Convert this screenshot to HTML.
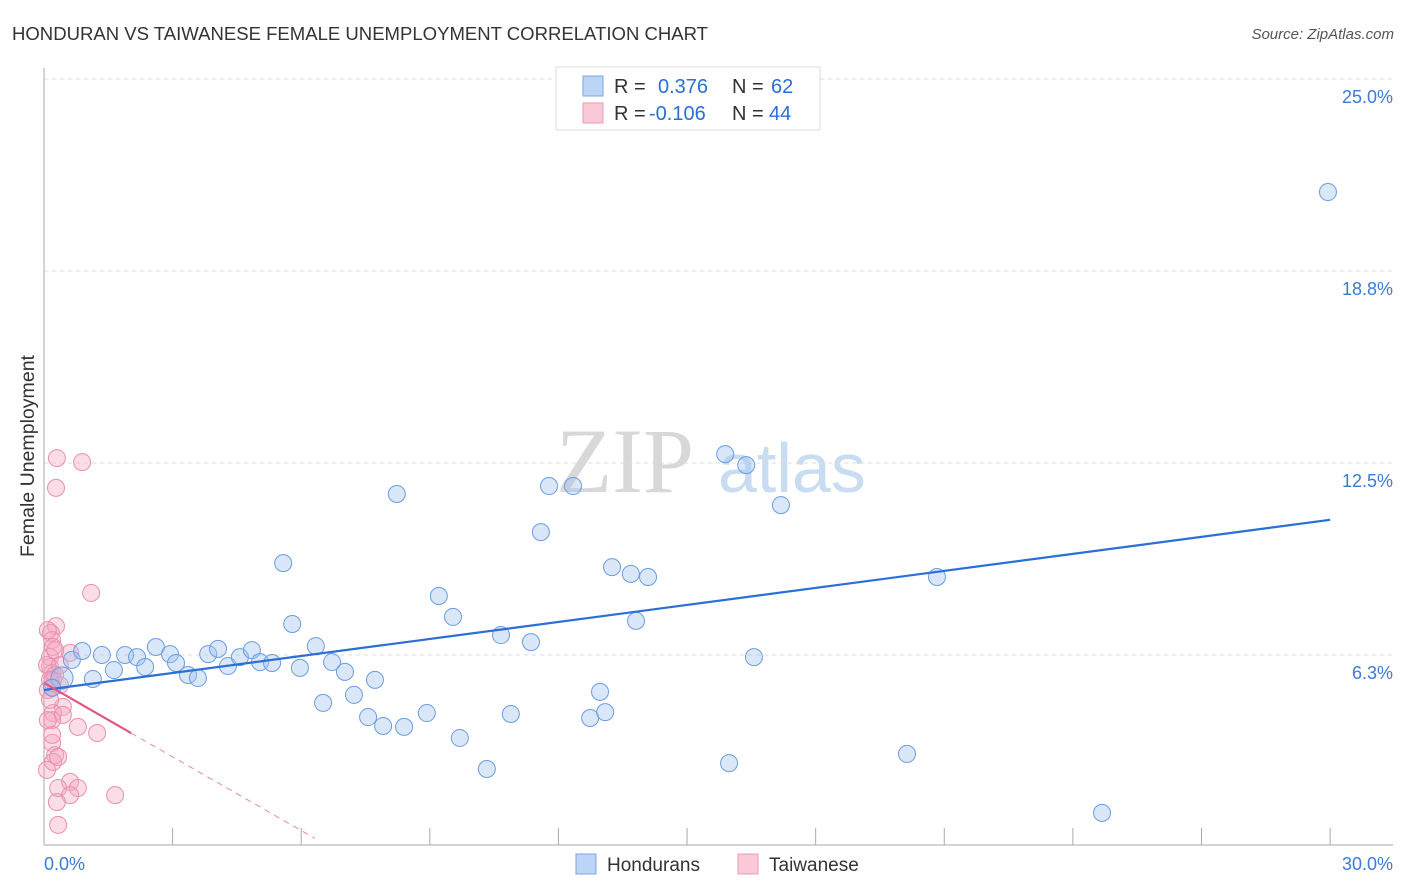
<!DOCTYPE html>
<html><head><meta charset="utf-8"><style>
body{margin:0;background:#fff;font-family:"Liberation Sans",sans-serif;}
svg{display:block}
</style></head><body>
<svg id="chart" width="1406" height="892">
<text x="12" y="40" font-size="18" fill="#333" textLength="696" lengthAdjust="spacingAndGlyphs">HONDURAN VS TAIWANESE FEMALE UNEMPLOYMENT CORRELATION CHART</text>
<text x="1394" y="39" font-size="15" fill="#555" font-style="italic" text-anchor="end">Source: ZipAtlas.com</text>
<text transform="translate(34,456) rotate(-90)" font-size="19" fill="#333" text-anchor="middle" textLength="202" lengthAdjust="spacingAndGlyphs">Female Unemployment</text>
<g>
<text x="556" y="492" font-family="Liberation Serif,serif" font-size="92" fill="#d8d8d8">ZIP</text>
<text x="718" y="492" font-size="70" fill="#c8dcf2">atlas</text>
</g>
<g id="grid"></g><g id="axes"></g><g id="pts"></g><g id="trend"></g>
<g>
<rect x="556" y="67" width="264" height="63" fill="#fff" stroke="#ddd"/>
<rect x="583" y="76" width="20" height="20" fill="#bcd4f5" stroke="#7aa6e6"/>
<rect x="583" y="103" width="20" height="20" fill="#f9c9d8" stroke="#ec9ab5"/>
<text x="614" y="93" font-size="20" fill="#333">R =<tspan x="658" fill="#2a6fd6">0.376</tspan><tspan x="732">N =</tspan><tspan x="771" fill="#2a6fd6">62</tspan></text>
<text x="614" y="120" font-size="20" fill="#333">R =<tspan x="649" fill="#2a6fd6">-0.106</tspan><tspan x="732">N =</tspan><tspan x="769" fill="#2a6fd6">44</tspan></text>
</g>
<g>
<rect x="576" y="854" width="20" height="20" fill="#bcd4f5" stroke="#7aa6e6"/>
<text x="607" y="871" font-size="19" fill="#333">Hondurans</text>
<rect x="738" y="854" width="20" height="20" fill="#f9c9d8" stroke="#ec9ab5"/>
<text x="769" y="871" font-size="19" fill="#333">Taiwanese</text>
</g>
</svg>
<script>
const yTicks=[6.25,12.5,18.75,25];
const yTickLabels=["6.3%","12.5%","18.8%","25.0%"];
const xTickLabels=["0.0%","30.0%"];
const honX=[0.42,0.65,0.89,1.14,1.35,1.63,1.89,2.17,2.36,2.61,2.94,3.08,3.36,3.59,3.83,4.06,4.29,4.57,4.85,5.04,5.32,5.58,5.79,5.97,6.34,6.51,6.72,7.02,7.23,7.56,7.72,7.91,8.23,8.40,8.93,9.21,9.54,9.70,10.33,10.66,10.89,11.36,11.59,11.78,12.34,12.74,12.97,13.09,13.25,13.69,13.81,14.09,15.89,15.98,16.38,16.56,17.19,20.13,20.83,24.68,29.95,0.19];
const honY=[5.50,6.09,6.38,5.47,6.25,5.76,6.25,6.18,5.86,6.51,6.28,5.99,5.60,5.50,6.28,6.45,5.89,6.18,6.41,6.02,5.99,9.24,7.26,5.83,6.54,4.69,6.02,5.70,4.95,4.23,5.44,3.94,11.49,3.91,4.36,8.17,7.49,3.55,2.54,6.90,4.33,6.67,10.25,11.75,11.75,4.20,5.05,4.39,9.11,8.89,7.36,8.79,12.79,2.73,12.43,6.18,11.13,3.03,8.79,1.11,21.32,5.18];
const taiX=[0.30,0.89,0.28,1.10,0.28,0.16,0.19,0.21,0.61,0.14,0.14,0.19,0.21,0.19,0.44,0.21,0.44,0.19,0.79,1.24,0.19,0.26,0.21,0.61,0.33,0.79,0.61,0.30,1.66,0.33,0.09,0.07,0.26,0.09,0.37,0.14,0.09,0.33,0.07,0.19,0.26,0.37,0.14];
const taiY=[12.66,12.53,11.69,8.27,7.19,6.97,6.74,6.51,6.32,6.18,5.86,5.66,5.44,5.21,4.56,4.36,4.30,4.13,3.91,3.71,3.39,2.99,2.77,2.12,1.92,1.92,1.69,1.46,1.69,0.72,7.06,5.92,5.60,5.11,5.27,4.79,4.13,2.93,2.51,3.65,6.41,5.92,5.44];
const honTrend=[[0,5.11],[30,10.65]];
const taiTrendSolid=[[0,5.34],[2.03,3.71]];
const taiTrendDash=[[2.03,3.71],[6.32,0.28]];
const NS="http://www.w3.org/2000/svg";
const X=v=>44+v*42.87, Y=v=>847-v*30.72;
function mk(tag,attrs,parent){const e=document.createElementNS(NS,tag);for(const k in attrs)e.setAttribute(k,attrs[k]);parent.appendChild(e);return e;}
const grid=document.getElementById('grid'),axes=document.getElementById('axes'),pts=document.getElementById('pts'),tr=document.getElementById('trend');
yTicks.forEach((t,i)=>{
 const l=mk('line',{x1:44,x2:1393,y1:Y(t),y2:Y(t),stroke:'#ddd','stroke-dasharray':'4,4'},grid);
 
 
 const tx=mk('text',{x:1393,y:Y(t)+24,'font-size':18,fill:'#3a7bd5','text-anchor':'end'},axes);
 tx.textContent=yTickLabels[i];
 
 
});
const ya=mk('line',{x1:44,x2:44,y1:68,y2:845,stroke:'#aaa'},axes);


const xa=mk('line',{x1:44,x2:1393,y1:845,y2:845,stroke:'#aaa'},axes);


for(let i=1;i<=10;i++){
 const t=mk('line',{x1:X(i*3),x2:X(i*3),y1:828,y2:845,stroke:'#aaa'},axes);
 
 
}
[[0,'start',44],[30,'end',1393]].forEach((d,i)=>{
 const tx=mk('text',{x:d[2],y:870,'font-size':18,fill:'#3a7bd5','text-anchor':d[1]},axes);
 tx.textContent=xTickLabels[i];
 
 
});
taiX.forEach((x,i)=>{
 const c=mk('circle',{cx:X(x),cy:Y(taiY[i]),r:8.5,fill:'rgba(245,165,192,0.38)',stroke:'#eb8fae','stroke-width':1},pts);
 
 
});
honX.forEach((x,i)=>{
 const c=mk('circle',{cx:X(x),cy:Y(honY[i]),r:i==0?11:8.5,fill:'rgba(160,196,240,0.4)',stroke:'#6b9de0','stroke-width':1},pts);
 
 
});
const l1=mk('line',{x1:X(honTrend[0][0]),y1:Y(honTrend[0][1]),x2:X(honTrend[1][0]),y2:Y(honTrend[1][1]),stroke:'#2a6fd6','stroke-width':2.2},tr);


const l2=mk('line',{x1:X(taiTrendSolid[0][0]),y1:Y(taiTrendSolid[0][1]),x2:X(taiTrendSolid[1][0]),y2:Y(taiTrendSolid[1][1]),stroke:'#e0577f','stroke-width':2.2},tr);


const l3=mk('line',{x1:X(taiTrendDash[0][0]),y1:Y(taiTrendDash[0][1]),x2:X(taiTrendDash[1][0]),y2:Y(taiTrendDash[1][1]),stroke:'#e98aa8','stroke-width':1,'stroke-dasharray':'6,5'},tr);


</script>
</body></html>
